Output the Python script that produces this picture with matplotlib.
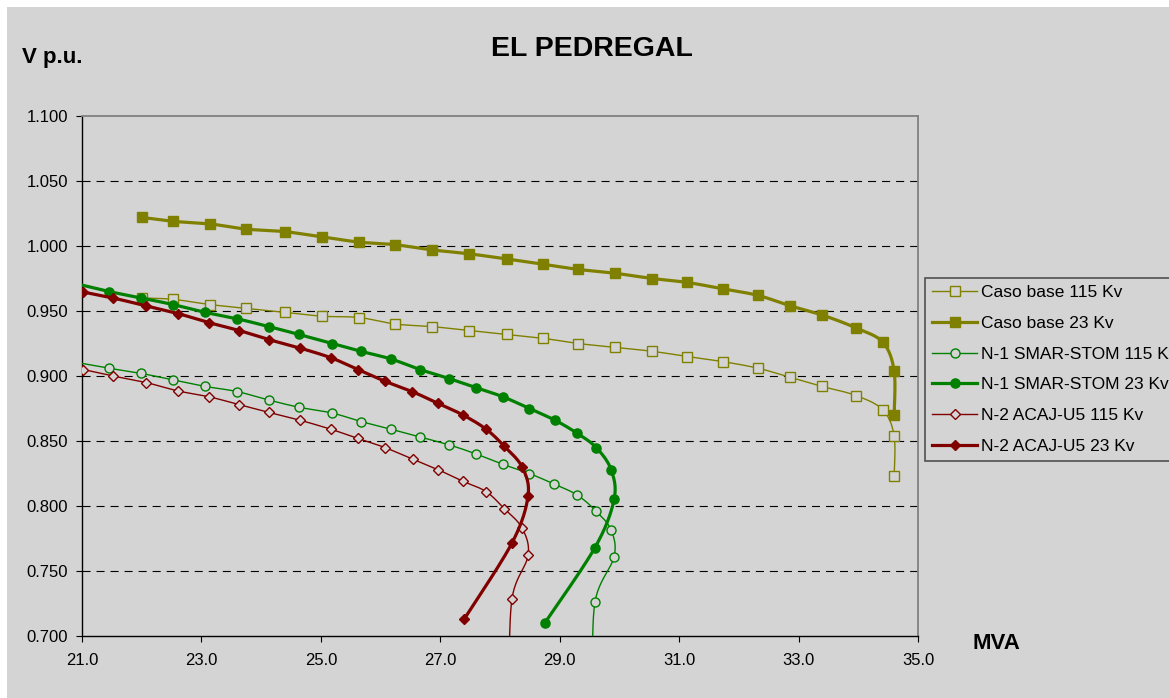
import numpy as np
import matplotlib
matplotlib.use('Agg')
import matplotlib.pyplot as plt
from matplotlib.lines import Line2D
from matplotlib.patches import Rectangle
from matplotlib.ticker import FormatStrFormatter

plt.rcParams['font.family'] = ['Liberation Sans', 'DejaVu Sans']
plt.rcParams['lines.scale_dashes'] = False

# ---------------- data ----------------
cb_x = [22.00, 22.52, 23.14, 23.75, 24.40, 25.02, 25.64, 26.24, 26.86, 27.48, 28.12, 28.72,
        29.31, 29.93, 30.55, 31.13, 31.74, 32.32, 32.86, 33.39, 33.96, 34.41, 34.60, 34.60]
cb115_y = [0.960, 0.959, 0.955, 0.952, 0.949, 0.946, 0.945, 0.940, 0.938, 0.935, 0.932, 0.929,
           0.925, 0.922, 0.919, 0.915, 0.911, 0.906, 0.899, 0.892, 0.885, 0.874, 0.854, 0.823]
cb23_y = [1.022, 1.019, 1.017, 1.013, 1.011, 1.007, 1.003, 1.001, 0.997, 0.994, 0.990, 0.986,
          0.982, 0.979, 0.975, 0.972, 0.967, 0.962, 0.954, 0.947, 0.937, 0.926, 0.904, 0.870]

n1_115_x = [20.90, 21.45, 21.99, 22.52, 23.06, 23.60, 24.13, 24.63, 25.19, 25.67, 26.18, 26.66,
            27.15, 27.60, 28.05, 28.49, 28.90, 29.29, 29.61, 29.86, 29.91, 29.59, 29.55]
n1_115_y = [0.9105, 0.906, 0.902, 0.897, 0.892, 0.888, 0.8815, 0.876, 0.8715, 0.865, 0.859, 0.853,
            0.847, 0.840, 0.832, 0.825, 0.817, 0.8085, 0.796, 0.7815, 0.761, 0.726, 0.660]
n1_23_x = [20.90, 21.45, 21.99, 22.52, 23.06, 23.60, 24.13, 24.63, 25.19, 25.67, 26.18, 26.66,
           27.15, 27.60, 28.05, 28.49, 28.92, 29.29, 29.61, 29.86, 29.91, 29.59, 28.75]
n1_23_y = [0.971, 0.965, 0.960, 0.955, 0.949, 0.944, 0.938, 0.932, 0.925, 0.919, 0.913, 0.905,
           0.898, 0.891, 0.884, 0.875, 0.866, 0.856, 0.845, 0.828, 0.805, 0.768, 0.710]

n2_115_x = [21.02, 21.52, 22.07, 22.61, 23.13, 23.63, 24.13, 24.65, 25.17, 25.62, 26.07, 26.54,
            26.96, 27.38, 27.77, 28.07, 28.37, 28.47, 28.20, 28.15]
n2_115_y = [0.905, 0.900, 0.895, 0.8885, 0.884, 0.878, 0.872, 0.866, 0.859, 0.852, 0.845, 0.836,
            0.828, 0.819, 0.811, 0.798, 0.783, 0.762, 0.7285, 0.660]
n2_23_x = [21.02, 21.52, 22.07, 22.61, 23.13, 23.63, 24.13, 24.65, 25.17, 25.62, 26.07, 26.53,
           26.96, 27.38, 27.77, 28.07, 28.37, 28.47, 28.20, 27.40]
n2_23_y = [0.9646, 0.960, 0.954, 0.948, 0.941, 0.935, 0.928, 0.9215, 0.914, 0.905, 0.896, 0.888,
           0.879, 0.870, 0.859, 0.846, 0.830, 0.808, 0.7715, 0.713]

labels = ['Caso base 115 Kv', 'Caso base 23 Kv', 'N-1 SMAR-STOM 115 Kv',
          'N-1 SMAR-STOM 23 Kv', 'N-2 ACAJ-U5 115 Kv', 'N-2 ACAJ-U5 23 Kv']
x_ticks = [21.0, 23.0, 25.0, 27.0, 29.0, 31.0, 33.0, 35.0]
y_ticks = [0.700, 0.750, 0.800, 0.850, 0.900, 0.950, 1.000, 1.050, 1.100]

# ---------------- styling ----------------
BG = '#d4d4d4'
OLIVE = '#808000'
GREEN = '#008000'
RED = '#800000'


def smooth(x, y, n=24):
    P = np.column_stack([x, y]).astype(float)
    out = [P[0]]
    m = len(P)
    t = np.linspace(0, 1, n)[1:, None]
    for i in range(m - 1):
        p0 = P[i - 1] if i > 0 else P[i]
        p1 = P[i]
        p2 = P[i + 1]
        p3 = P[i + 2] if i + 2 < m else P[i + 1]
        c1 = p1 + (p2 - p0) / 6.0
        c2 = p2 - (p3 - p1) / 6.0
        seg = ((1 - t) ** 3) * p1 + 3 * ((1 - t) ** 2) * t * c1 + 3 * (1 - t) * t ** 2 * c2 + t ** 3 * p2
        out.extend(seg)
    out = np.array(out)
    return out[:, 0], out[:, 1]


fig = plt.figure(figsize=(11.69, 6.98), dpi=100, facecolor='white')
fig.add_artist(Rectangle((7 / 1169, 0), 1, 1 - 7 / 698, transform=fig.transFigure,
                         facecolor=BG, edgecolor='none', zorder=-10))
ax = fig.add_axes([82 / 1169, 1 - 636 / 698, 836 / 1169, 520 / 698])
ax.set_facecolor(BG)

series = [
    (cb_x, cb115_y, OLIVE, 1.0, 's', 6.6, False),
    (cb_x, cb23_y, OLIVE, 2.3, 's', 7.2, True),
    (n1_115_x, n1_115_y, GREEN, 1.0, 'o', 6.5, False),
    (n1_23_x, n1_23_y, GREEN, 2.3, 'o', 6.6, True),
    (n2_115_x, n2_115_y, RED, 1.0, 'D', 5.2, False),
    (n2_23_x, n2_23_y, RED, 2.3, 'D', 5.6, True),
]

handles = []
for k, (xs, ys, col, lw, mk, ms, filled) in enumerate(series):
    sx, sy = smooth(xs, ys)
    ax.plot(sx, sy, color=col, lw=lw, zorder=3 + k, solid_capstyle='butt')
    mfc = col if filled else BG
    ax.plot(xs, ys, ls='none', marker=mk, ms=ms, mfc=mfc, mec=col, mew=1.0, zorder=3.5 + k)
    handles.append(Line2D([], [], color=col, lw=lw, marker=mk, ms=ms, mfc=mfc, mec=col, mew=1.0))

for v in y_ticks[1:-1]:
    ax.axhline(v, color='black', lw=0.8, dashes=(5.8, 4.3), zorder=1)

ax.set_xlim(21, 35)
ax.set_ylim(0.7, 1.1)
ax.set_xticks(x_ticks)
ax.set_yticks(y_ticks)
ax.xaxis.set_major_formatter(FormatStrFormatter('%.1f'))
ax.yaxis.set_major_formatter(FormatStrFormatter('%.3f'))
ax.tick_params(axis='both', direction='out', length=4, width=0.8, color='black',
               labelsize=12, labelcolor='black')
ax.tick_params(axis='y', pad=6)
ax.tick_params(axis='x', pad=8.5)

for s in ['left', 'bottom']:
    ax.spines[s].set_color('black')
    ax.spines[s].set_linewidth(1.0)
for s in ['top', 'right']:
    ax.spines[s].set_color('#808080')
    ax.spines[s].set_linewidth(1.3)

fig.text(592 / 1169, 1 - 56 / 698, 'EL PEDREGAL', ha='center', va='baseline',
         fontsize=20.5, fontweight='bold')
fig.text(22 / 1169, 1 - 63 / 698, 'V p.u.', ha='left', va='baseline',
         fontsize=16, fontweight='bold')
fig.text(973 / 1169, 1 - 649 / 698, 'MVA', ha='left', va='baseline',
         fontsize=16, fontweight='bold')

leg = ax.legend(handles, labels, loc='upper left', bbox_to_anchor=(925 / 1169, 1 - 278 / 698),
                bbox_transform=fig.transFigure, frameon=True, fancybox=False,
                edgecolor='#505050', facecolor=BG, framealpha=1, fontsize=12.5,
                handlelength=2.6, handletextpad=0.22, borderpad=0.4, labelspacing=0.9,
                borderaxespad=0, numpoints=1)
leg.get_frame().set_linewidth(1.2)

fig.savefig('out.png', dpi=100, facecolor='white')
